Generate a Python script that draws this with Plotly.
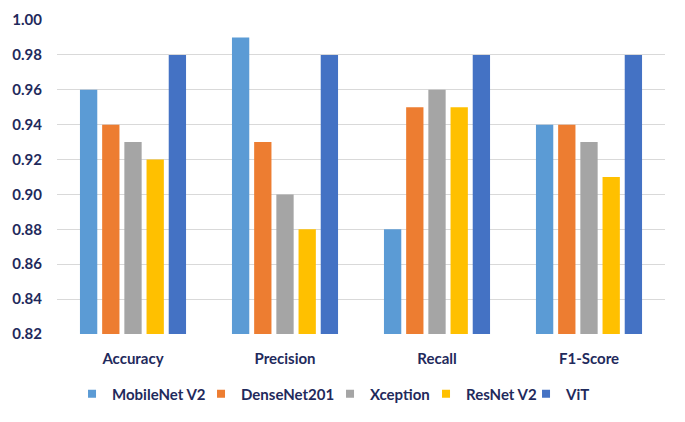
import plotly.graph_objects as go

categories = ["Accuracy", "Precision", "Recall", "F1-Score"]
models = ["MobileNet V2", "DenseNet201", "Xception", "ResNet V2", "ViT"]
mobilenet = [0.96, 0.99, 0.88, 0.94]
densenet = [0.94, 0.93, 0.95, 0.94]
xception = [0.93, 0.90, 0.96, 0.93]
resnet = [0.92, 0.88, 0.95, 0.91]
vit = [0.98, 0.98, 0.98, 0.98]
series = [mobilenet, densenet, xception, resnet, vit]
colors = ["#5B9BD5", "#ED7D31", "#A5A5A5", "#FFC000", "#4472C4"]
yticks = [0.82, 0.84, 0.86, 0.88, 0.90, 0.92, 0.94, 0.96, 0.98, 1.00]
legend_widths = [84, 84, 51, 55, None]

font_color = "#1F2A5C"

fig = go.Figure()
for name, vals, c in zip(models, series, colors):
    fig.add_trace(go.Bar(x=categories, y=vals, name=name, marker_color=c,
                         marker_line_width=0, showlegend=False))
# legend entries with small square swatches
for name, c, lw in zip(models, colors, legend_widths):
    fig.add_trace(go.Scatter(x=[None], y=[None], mode="markers", name=name,
                             legendwidth=lw,
                             marker=dict(symbol="square", size=8, color=c)))

# figure is placed 8px in from the page corner, so it is sized to fit the window
fig.update_layout(
    width=669, height=406,
    margin=dict(l=49, r=12, t=12, b=80, autoexpand=False),
    paper_bgcolor="white", plot_bgcolor="white",
    barmode="group", bargap=0.27, bargroupgap=0.22,
    font=dict(family="Lato", size=15, color=font_color),
    showlegend=True,
    legend=dict(orientation="h", xref="container", x=0.0957, xanchor="left",
                yref="container", y=0.0493, yanchor="middle",
                font=dict(family="Lato", size=15, color=font_color, weight="bold"),
                itemwidth=30, tracegroupgap=0),
    xaxis=dict(showgrid=False, showline=False, ticks="", ticklabelstandoff=14,
               automargin=False,
               tickfont=dict(family="Lato", size=15, color=font_color, weight="bold")),
    yaxis=dict(range=[0.82, 1.00], tickvals=yticks, tickformat=".2f",
               showgrid=True, gridcolor="#D9D9D9", gridwidth=1, zeroline=False,
               showline=False, ticks="", ticklabelstandoff=14, automargin=False,
               tickfont=dict(family="Lato", size=15, color=font_color, weight="bold")),
)
fig.write_html("out.html")
